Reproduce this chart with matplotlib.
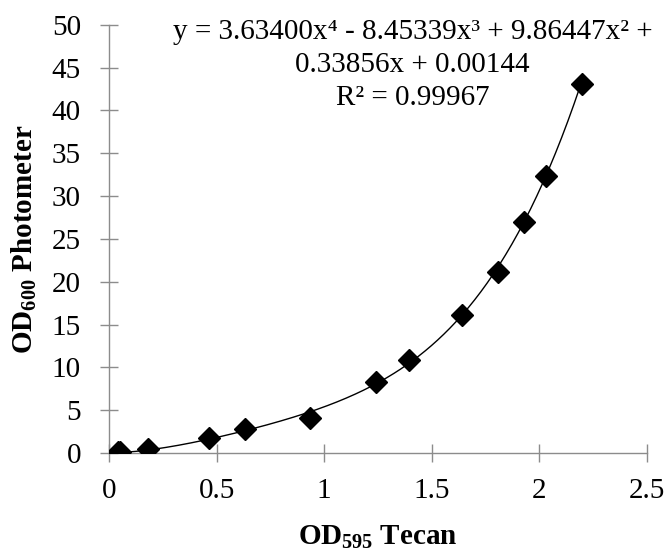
import numpy as np
import matplotlib.pyplot as plt

# ---------------- datos ----------------
od595_tecan = [0.042, 0.050, 0.183, 0.465, 0.632, 0.934, 1.241, 1.394, 1.639, 1.806, 1.930, 2.029, 2.197]
od600_photo = [0.05, 0.12, 0.43, 1.75, 2.80, 4.10, 8.33, 10.9, 16.1, 21.1, 26.95, 32.3, 43.07]

# coeficientes de la linea de tendencia (x^4 ... x^0), tal como aparecen en la figura
trend_coef = [3.63400, -8.45339, 9.86447, 0.33856, 0.00144]
r2 = 0.99967

x_ticks = [0, 0.5, 1, 1.5, 2, 2.5]
y_ticks = [0, 5, 10, 15, 20, 25, 30, 35, 40, 45, 50]

# ---------------- estilo ----------------
plt.rcParams['font.family'] = ['Liberation Serif', 'DejaVu Serif']
plt.rcParams['mathtext.fontset'] = 'custom'
plt.rcParams['mathtext.rm'] = 'Liberation Serif'
plt.rcParams['mathtext.bf'] = 'Liberation Serif:bold'

grey = '#8c8c8c'
fs = 21

fig = plt.figure(figsize=(6.69, 5.53), dpi=100)
ax = fig.add_axes([0.163, 0.181, 0.804, 0.774])

# linea de tendencia polinomica
xs = np.linspace(min(od595_tecan), max(od595_tecan), 300)
ax.plot(xs, np.polyval(trend_coef, xs), color='black', lw=1.0, zorder=2)

# puntos
ax.plot(od595_tecan, od600_photo, linestyle='none', marker='D', markersize=11,
        color='black', zorder=3)

ax.set_xlim(0, 2.5)
ax.set_ylim(0, 50)
ax.set_xticks(x_ticks)
ax.set_xticklabels([f'{t:g}' for t in x_ticks])
ax.set_yticks(y_ticks)

for s in ['top', 'right']:
    ax.spines[s].set_visible(False)
for s in ['left', 'bottom']:
    ax.spines[s].set_color(grey)
    ax.spines[s].set_linewidth(1.0)

ax.tick_params(direction='inout', length=13.5, width=1.0, color=grey, labelsize=fs)
ax.tick_params(axis='y', pad=13.5)
ax.tick_params(axis='x', pad=11)

ax.set_xlabel(r'OD$_{\mathbf{595}}$ Tecan', fontsize=fs, fontweight='bold', labelpad=14)
ax.set_ylabel(r'OD$_{\mathbf{600}}$ Photometer', fontsize=fs, fontweight='bold', labelpad=9)

eq = ('y = 3.63400x\u2074 - 8.45339x\u00b3 + 9.86447x\u00b2 +\n'
      '0.33856x + 0.00144\n'
      f'R\u00b2 = {r2:.5f}')
ax.text(1.41, 50.7, eq, ha='center', va='top', fontsize=fs, linespacing=1.36)

fig.savefig('out.png', dpi=100)
